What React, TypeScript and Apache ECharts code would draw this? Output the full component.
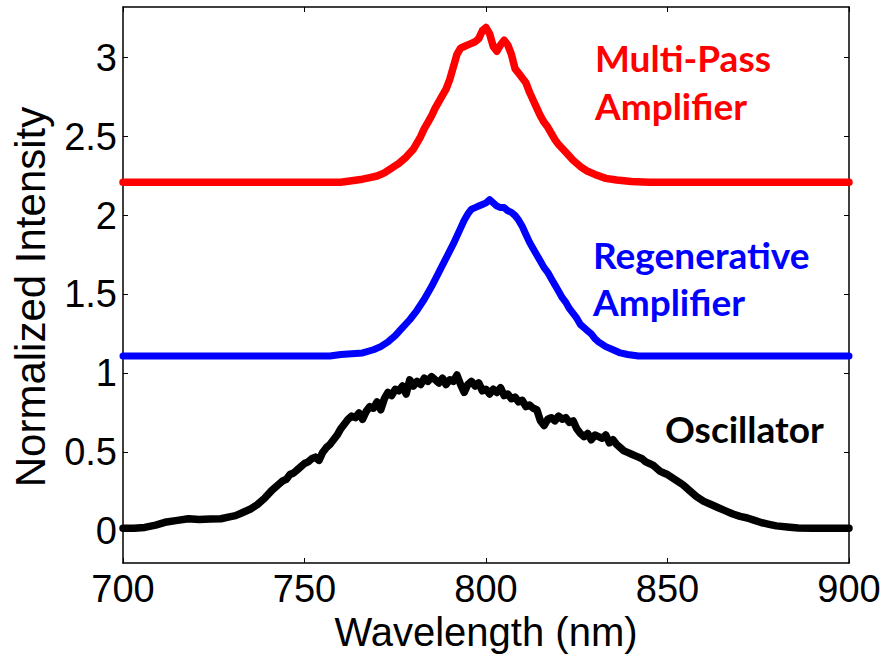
import React, { useEffect, useRef } from "react";
import * as echarts from "echarts";

// Wavelength axis (nm)
const xMin = 700;
const xMax = 900;
const xStep = 50;

// Normalized intensity axis
const yMin = -0.2;
const yMax = 3.32;
const yTicks = [0, 0.5, 1, 1.5, 2, 2.5, 3];

// Oscillator spectrum [nm, intensity]
const oscillator: [number, number][] = [
  [700, 0.02], [703, 0.02], [706, 0.025], [709, 0.04], [712, 0.06], [715, 0.07],
  [718, 0.08], [721, 0.075], [724, 0.078], [727, 0.08], [729, 0.09], [731, 0.1],
  [733, 0.12], [735, 0.14], [737, 0.17], [739, 0.21], [741, 0.26], [743, 0.3],
  [744, 0.32], [745, 0.33], [746, 0.36], [747, 0.37], [748, 0.39], [749, 0.41],
  [750, 0.43], [751, 0.44], [752, 0.46], [753, 0.47], [754, 0.45], [755, 0.5],
  [756, 0.53], [757, 0.55], [758, 0.58], [759, 0.61], [760, 0.65], [761, 0.68],
  [762, 0.71], [763, 0.73], [764, 0.72], [765, 0.75], [766, 0.71], [767, 0.76],
  [768, 0.79], [769, 0.78], [770, 0.82], [771, 0.77], [772, 0.84], [773, 0.88],
  [774, 0.86], [775, 0.9], [776, 0.89], [777, 0.92], [778, 0.87], [779, 0.96],
  [780, 0.92], [781, 0.95], [782, 0.93], [783, 0.97], [784, 0.95], [785, 0.98],
  [786, 0.96], [787, 0.94], [788, 0.97], [789, 0.93], [790, 0.96], [791, 0.95],
  [792, 0.99], [793, 0.93], [794, 0.88], [795, 0.93], [796, 0.95], [797, 0.92],
  [798, 0.94], [799, 0.89], [800, 0.9], [801, 0.87], [802, 0.9], [803, 0.88],
  [804, 0.91], [805, 0.86], [806, 0.87], [807, 0.84], [808, 0.85], [809, 0.82],
  [810, 0.83], [811, 0.79], [812, 0.8], [813, 0.78], [814, 0.77], [815, 0.7],
  [816, 0.67], [817, 0.71], [818, 0.72], [819, 0.7], [820, 0.73], [821, 0.71],
  [822, 0.72], [823, 0.69], [824, 0.7], [825, 0.65], [826, 0.62], [827, 0.6],
  [828, 0.62], [829, 0.58], [830, 0.61], [831, 0.6], [832, 0.59], [833, 0.61],
  [834, 0.56], [835, 0.58], [836, 0.55], [837, 0.53], [838, 0.51], [839, 0.5],
  [840, 0.49], [841, 0.48], [842, 0.47], [843, 0.46], [844, 0.44], [845, 0.43],
  [846, 0.42], [847, 0.4], [848, 0.38], [849, 0.37], [850, 0.36], [852, 0.33],
  [854, 0.3], [855, 0.28], [856, 0.26], [858, 0.22], [860, 0.19], [862, 0.17],
  [864, 0.15], [866, 0.13], [868, 0.11], [870, 0.095], [872, 0.085], [874, 0.07],
  [876, 0.055], [878, 0.045], [880, 0.035], [883, 0.028], [886, 0.022], [890, 0.02],
  [895, 0.02], [900, 0.02],
];

// Regenerative amplifier spectrum, offset by 1.1
const regenerative: [number, number][] = [
  [700, 1.11], [730, 1.11], [757, 1.11], [760, 1.12], [763, 1.125], [766, 1.13],
  [769, 1.15], [771, 1.17], [773, 1.2], [775, 1.24], [777, 1.29], [779, 1.34],
  [781, 1.4], [783, 1.47], [785, 1.55], [787, 1.64], [789, 1.73], [791, 1.82],
  [793, 1.92], [794, 1.97], [795, 2.01], [796, 2.04], [797, 2.05], [798, 2.06],
  [799, 2.07], [800, 2.08], [801, 2.1], [802, 2.08], [803, 2.06], [804, 2.05],
  [805, 2.05], [806, 2.03], [807, 2.02], [808, 2.0], [809, 1.97], [810, 1.93],
  [811, 1.88], [812, 1.83], [813, 1.79], [814, 1.75], [815, 1.71], [816, 1.67],
  [817, 1.64], [818, 1.6], [819, 1.56], [820, 1.52], [821, 1.48], [822, 1.45],
  [823, 1.41], [824, 1.38], [825, 1.35], [826, 1.31], [827, 1.29], [828, 1.27],
  [829, 1.25], [830, 1.22], [831, 1.2], [833, 1.17], [835, 1.15], [837, 1.13],
  [839, 1.12], [842, 1.11], [870, 1.11], [900, 1.11],
];

// Multi-pass amplifier spectrum, offset by 2.2
const multiPass: [number, number][] = [
  [700, 2.21], [724, 2.21], [745, 2.21], [760, 2.21], [763, 2.22], [766, 2.23],
  [768, 2.24], [770, 2.25], [772, 2.27], [774, 2.3], [776, 2.33], [778, 2.37],
  [780, 2.42], [781, 2.46], [782, 2.5], [783, 2.55], [784, 2.59], [785, 2.63],
  [786, 2.68], [787, 2.72], [788, 2.76], [789, 2.8], [790, 2.86], [791, 2.94],
  [792, 3.02], [793, 3.06], [794, 3.07], [795, 3.08], [796, 3.09], [797, 3.1],
  [798, 3.12], [799, 3.17], [800, 3.19], [801, 3.15], [802, 3.07], [803, 3.04],
  [804, 3.08], [805, 3.11], [806, 3.08], [807, 3.02], [808, 2.93], [809, 2.9],
  [810, 2.87], [811, 2.84], [812, 2.78], [813, 2.73], [814, 2.68], [815, 2.63],
  [816, 2.59], [817, 2.56], [818, 2.52], [819, 2.48], [820, 2.45], [822, 2.4],
  [824, 2.35], [826, 2.31], [828, 2.28], [830, 2.26], [833, 2.235], [836, 2.225],
  [840, 2.215], [845, 2.21], [870, 2.21], [900, 2.21],
];

const labelFont = "'Liberation Sans', Arial, sans-serif";
const noteFont = "Lato, 'Open Sans', sans-serif";

export default function App() {
  const ref = useRef<HTMLDivElement>(null);

  useEffect(() => {
    if (!ref.current) return;
    const chart = echarts.init(ref.current, undefined, { renderer: "svg" });

    const line = { color: "#000", width: 1.5 };
    const tick = { inside: true, length: 5, lineStyle: { color: "#000", width: 1 } };

    const mkSeries = (data: [number, number][], color: string, width: number) => ({
      type: "line",
      data,
      showSymbol: false,
      symbol: "none",
      smooth: false,
      lineStyle: { color, width, join: "round", cap: "round" },
      xAxisIndex: 0,
      yAxisIndex: 0,
      z: 2,
    });

    const note = (text: string, x: number, y: number, fill: string) => ({
      type: "text",
      x,
      y,
      style: {
        text,
        fontSize: 37,
        fontWeight: "bold",
        fontFamily: noteFont,
        fill,
        textVerticalAlign: "middle",
      },
    });

    chart.setOption({
      animation: false,
      backgroundColor: "#fff",
      grid: { left: 123, right: 37, top: 7, bottom: 92, containLabel: false },
      xAxis: [
        {
          type: "value",
          min: xMin,
          max: xMax,
          interval: xStep,
          position: "bottom",
          axisLine: { show: true, onZero: false, lineStyle: line },
          axisTick: tick,
          splitLine: { show: false },
          axisLabel: {
            color: "#000",
            fontSize: 38,
            fontFamily: labelFont,
            margin: 7,
          },
        },
        {
          type: "value",
          min: xMin,
          max: xMax,
          interval: xStep,
          position: "top",
          axisLine: { show: true, onZero: false, lineStyle: line },
          axisTick: tick,
          splitLine: { show: false },
          axisLabel: { show: false },
        },
      ],
      yAxis: [
        {
          type: "value",
          min: yMin,
          max: yMax,
          position: "left",
          axisLine: { show: true, onZero: false, lineStyle: line },
          axisTick: { ...tick, customValues: yTicks },
          splitLine: { show: false },
          axisLabel: {
            color: "#000",
            fontSize: 38,
            fontFamily: labelFont,
            margin: 6,
            customValues: yTicks,
            formatter: (v: number) => String(v),
          },
        },
        {
          type: "value",
          min: yMin,
          max: yMax,
          position: "right",
          axisLine: { show: true, onZero: false, lineStyle: line },
          axisTick: { ...tick, customValues: yTicks },
          splitLine: { show: false },
          axisLabel: { show: false },
        },
      ],
      series: [
        mkSeries(oscillator, "#000000", 7.5),
        mkSeries(regenerative, "#0000ff", 7),
        mkSeries(multiPass, "#ff0000", 7.5),
      ],
      graphic: [
        {
          type: "text",
          x: 486,
          y: 632,
          style: {
            text: "Wavelength (nm)",
            fontSize: 40,
            fontFamily: labelFont,
            fill: "#000",
            textAlign: "center",
            textVerticalAlign: "middle",
          },
        },
        {
          type: "text",
          x: 30,
          y: 297,
          rotation: Math.PI / 2,
          style: {
            text: "Normalized Intensity",
            fontSize: 42,
            fontFamily: labelFont,
            fill: "#000",
            textAlign: "center",
            textVerticalAlign: "middle",
          },
        },
        note("Multi-Pass", 595, 57, "#ff0000"),
        note("Amplifier", 595, 105, "#ff0000"),
        note("Regenerative", 593, 254, "#0000ff"),
        note("Amplifier", 593, 301, "#0000ff"),
        note("Oscillator", 665, 428, "#000000"),
      ],
    });

    return () => chart.dispose();
  }, []);

  return (
    <div
      ref={ref}
      style={{ position: "absolute", left: 0, top: 0, width: 886, height: 655 }}
    />
  );
}
